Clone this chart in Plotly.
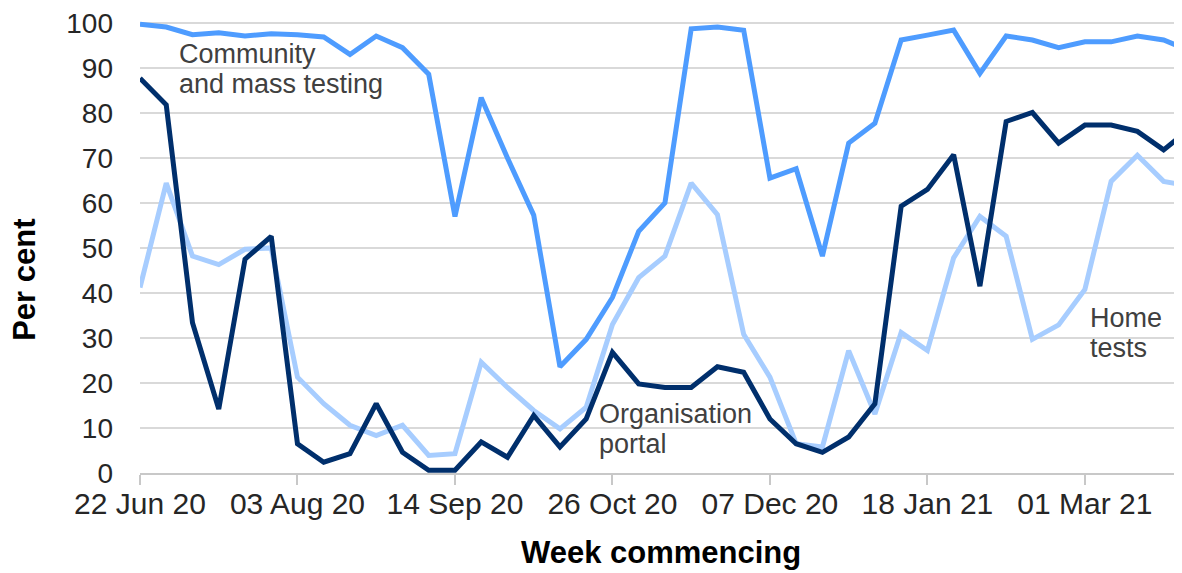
import pandas as pd
import plotly.graph_objects as go

start_week = "2020-06-22"

community = [99.7, 99.1, 97.4, 97.8, 97.1, 97.6, 97.4, 96.9, 93.0, 97.1,
             94.5, 88.6, 57.0, 83.4, 70.0, 57.3, 23.6, 29.7, 39.0, 53.7,
             60.0, 98.7, 99.1, 98.4, 65.5, 67.6, 48.2, 73.3, 77.7, 96.2,
             97.3, 98.4, 88.8, 97.1, 96.2, 94.5, 95.8, 95.8, 97.1, 96.2,
             93.8]

organisation = [87.7, 81.8, 33.4, 14.2, 47.5, 52.6, 6.5, 2.4, 4.3, 15.4,
                4.6, 0.6, 0.6, 6.9, 3.5, 12.8, 5.8, 12.0, 26.8, 19.8,
                19.0, 19.0, 23.6, 22.4, 12.0, 6.5, 4.6, 8.0, 15.4, 59.3,
                63.0, 70.7, 41.5, 78.1, 80.1, 73.3, 77.3, 77.3, 75.9, 71.8,
                76.5]

home = [41.2, 64.4, 48.2, 46.3, 49.7, 50.0, 21.3, 15.4, 10.6, 8.3,
        10.6, 3.9, 4.3, 24.6, 19.0, 13.9, 9.8, 14.6, 33.0, 43.4,
        48.2, 64.4, 57.4, 30.8, 21.3, 6.5, 5.8, 27.2, 13.1, 31.2,
        27.2, 47.8, 57.0, 52.6, 29.7, 32.9, 40.8, 64.8, 70.6, 64.8,
        63.7]

weeks = pd.date_range(start_week, periods=len(community), freq="7D")

# the page body has an 8px margin; lay the figure out in page pixels
OFF = 8
W, H = 1182 - OFF, 573 - OFF
L, R, T, B = 140 - OFF, 0, 16 - OFF, 100
pw, ph = W - L - R, H - T - B


def px_x(x):
    return (x - OFF - L) / pw


def px_y(y):
    return (H - B - (y - OFF)) / ph


font_family = "Liberation Sans, Arial, sans-serif"

fig = go.Figure()
fig.add_trace(go.Scatter(x=weeks, y=home, mode="lines", name="Home tests",
                         line=dict(color="#a7cdff", width=5)))
fig.add_trace(go.Scatter(x=weeks, y=community, mode="lines", name="Community and mass testing",
                         line=dict(color="#4e9cff", width=5)))
fig.add_trace(go.Scatter(x=weeks, y=organisation, mode="lines", name="Organisation portal",
                         line=dict(color="#002f6c", width=5)))

end = pd.Timestamp(start_week) + pd.Timedelta(days=39.7 * 7)

fig.update_xaxes(
    type="date",
    range=[pd.Timestamp(start_week), end],
    tick0=start_week,
    dtick=42 * 86400000,
    tickformat="%d %b %y",
    ticks="outside", ticklen=10, tickwidth=1.5, tickcolor="#c8c8c8",
    showline=True, linecolor="#c8c8c8", linewidth=1.5,
    showgrid=False, zeroline=False,
    tickfont=dict(family=font_family, size=30, color="#262626"),
    ticklabelstandoff=-7,
    ticklabeloverflow="allow",
)
fig.update_yaxes(
    range=[0, 101.1],
    tickvals=[0, 10, 20, 30, 40, 50, 60, 70, 80, 90, 100],
    showgrid=True, gridcolor="#d9d9d9", gridwidth=1.5,
    zeroline=False, showline=False, ticks="",
    tickfont=dict(family=font_family, size=28, color="#262626"),
    ticklabelstandoff=26,
    ticklabeloverflow="allow",
)

ann_font = dict(family=font_family, size=27, color="#404040")
labels = [
    ("Community", 177, 52),
    ("and mass testing", 177, 82),
    ("Organisation", 597, 414),
    ("portal", 597, 444),
    ("Home", 1088, 317),
    ("tests", 1088, 347),
]
annotations = []
for text, x, y in labels:
    annotations.append(dict(text=text, x=px_x(x), y=px_y(y), xref="paper", yref="paper",
                            xanchor="left", yanchor="middle", showarrow=False, font=ann_font))

annotations.append(dict(text="<b>Per cent</b>", x=px_x(25), y=px_y(279), xref="paper", yref="paper",
                        textangle=-90, xanchor="center", yanchor="middle", showarrow=False,
                        font=dict(family=font_family, size=31, color="#000000")))
annotations.append(dict(text="<b>Week commencing</b>", x=px_x(661), y=px_y(553), xref="paper", yref="paper",
                        xanchor="center", yanchor="middle", showarrow=False,
                        font=dict(family=font_family, size=31, color="#000000")))

fig.update_layout(
    width=W, height=H,
    margin=dict(l=L, r=R, t=T, b=B, pad=0),
    plot_bgcolor="white", paper_bgcolor="white",
    showlegend=False,
    annotations=annotations,
)

fig.write_html("out.html")
